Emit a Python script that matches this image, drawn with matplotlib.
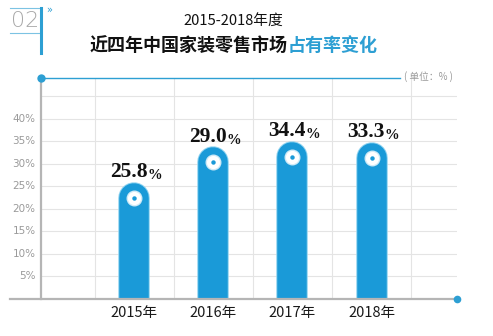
import numpy as np
import matplotlib.pyplot as plt

plt.rcParams['font.family'] = ['Noto Sans CJK SC', 'DejaVu Sans']

# data
years = ['2015年', '2016年', '2017年', '2018年']
share_labels = ['25.8', '29.0', '34.4', '33.3']
# bar heights as drawn (the original artwork is not to scale for 2016/2018)
bar_heights = [25.8, 33.6, 34.8, 34.6]
y_ticks = [5, 10, 15, 20, 25, 30, 35, 40]

blue = '#1a9ad8'
title_blue = '#2d9fd3'
grid_col = '#e4e4e4'

W, H = 493, 336
fig = plt.figure(figsize=(W / 100, H / 100), dpi=100)

def fx(px):
    return px / W

def fy(py):
    return 1 - py / H

# axes box: left 41px, right 457px, baseline 299px, top 78px
ax = fig.add_axes([fx(41), fy(299), fx(457) - fx(41), fy(78) - fy(299)])
ax.set_xlim(-1.18, 4.08)
ax.set_ylim(0, 49)
for s in ax.spines.values():
    s.set_visible(False)
ax.set_xticks([])
ax.set_yticks([])

# grid
for g in np.arange(-0.5, 4, 1.0):
    ax.axvline(g, color=grid_col, lw=0.8, zorder=0)
for t in y_ticks + [45]:
    ax.axhline(t, color=grid_col, lw=0.8, zorder=0)

# y tick labels
for t in y_ticks:
    ax.text(-1.25, t, f'{t}%', ha='right', va='center', fontsize=7.5,
            color='#9a9a9a', family=['DejaVu Sans'])

# bars with rounded tops: thick line with round cap, bottom cap clipped at 0
x = np.arange(len(years))
bar_px = 30
px_per_unit = 221 / 49
r_data = bar_px / 2 / px_per_unit
for xi, h, lab in zip(x, bar_heights, share_labels):
    cy = h - r_data
    ax.plot([xi, xi], [0, cy], color='#8fd3f0', lw=(bar_px + 1.5) * 0.72,
            solid_capstyle='round', zorder=2)
    ax.plot([xi, xi], [0, cy], color=blue, lw=(bar_px - 0.5) * 0.72,
            solid_capstyle='round', zorder=2.1)
    ax.plot(xi, cy, 'o', ms=11.5, color='#cfeaf7', mec='none', zorder=3)
    ax.plot(xi, cy, 'o', ms=9.5, color='white', mec='none', zorder=3.1)
    ax.plot(xi, cy, 'o', ms=3.2, color=blue, mec='none', zorder=3.2)
    t = ax.text(xi - 0.07, h + 1.3, lab, ha='center', va='baseline',
                fontsize=15.5, fontweight='bold', family=['Liberation Serif'],
                color='#111111', zorder=4)
    ax.annotate('%', xy=(1, 0), xycoords=t, ha='left', va='bottom',
                fontsize=10.5, fontweight='bold', family=['Liberation Serif'],
                color='#111111', zorder=4)

# x labels
for xi, yr in zip(x, years):
    ax.text(xi, -3.1, yr, ha='center', va='center', fontsize=10.5,
            color='#1a1a1a', clip_on=False)

# frame lines drawn in figure pixels
ov = fig.add_axes([0, 0, 1, 1], facecolor='none')
ov.set_xlim(0, W)
ov.set_ylim(H, 0)
ov.axis('off')
ov.plot([41, 41], [78, 299], color='#b5b5b5', lw=1.6, zorder=5)
ov.plot([10, 457], [299, 299], color='#b5b5b5', lw=1.6, zorder=5)
ov.plot([41, 400], [78, 78], color=title_blue, lw=1.0, zorder=5)
ov.plot(41, 78, 'o', ms=6, color=title_blue, mec='none', zorder=6)
ov.plot(457, 299, 'o', ms=5.5, color=title_blue, mec='none', zorder=6)
ov.text(428, 77, '( 单位：% )', ha='center', va='center', fontsize=7,
        color='#9a9a9a')

# "02" badge
ov.plot([10, 41], [8, 8], color='#7cc3e3', lw=0.8)
ov.plot([10, 41], [33, 33], color='#7cc3e3', lw=0.8)
ov.plot([41, 41], [8, 53], color=title_blue, lw=2.2)
ov.text(25, 21, '02', ha='center', va='center', fontsize=16,
        color='#a8a8a8', family=['DejaVu Sans'], fontweight='light')
ov.text(49, 10, '»', ha='center', va='center', fontsize=7, color=title_blue,
        family=['DejaVu Sans'])

# titles
ov.text(233, 22, '2015-2018年度', ha='center', va='center', fontsize=10.6,
        color='#111111')
ov.text(288, 45, '近四年中国家装零售市场', ha='right', va='center', fontsize=13,
        fontweight='bold', color='#111111')
ov.text(288, 45, '占有率变化', ha='left', va='center', fontsize=13,
        fontweight='bold', color=title_blue)

fig.savefig('out.png', dpi=100, facecolor='white')
